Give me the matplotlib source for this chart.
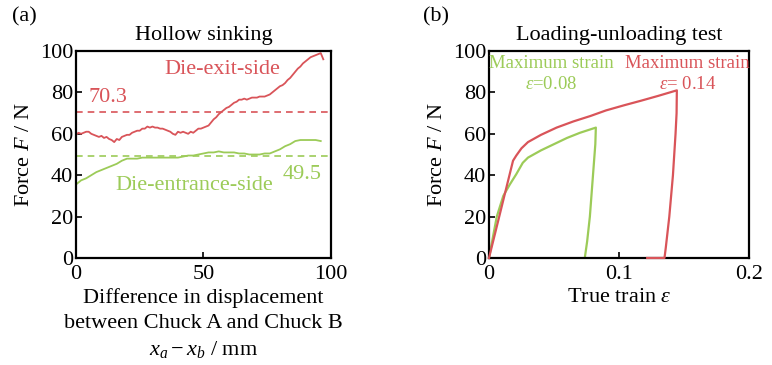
import numpy as np
import matplotlib.pyplot as plt

plt.rcParams['font.family'] = ['Liberation Serif', 'DejaVu Serif']
plt.rcParams['mathtext.fontset'] = 'custom'
plt.rcParams['mathtext.rm'] = 'Liberation Serif'
plt.rcParams['mathtext.it'] = 'Liberation Serif:italic'

RED = '#d95459'
GREEN = '#9ccb58'

# (a) hollow sinking: force vs displacement difference (read every 1 mm / 2 mm)
disp_exit = np.arange(0, 98)
force_exit = [59.5, 60.5, 60, 60.5, 61, 61, 60, 59.5, 59, 58.5,
              59, 58, 58.5, 57.5, 57, 56, 57.5, 57, 58.5, 59,
              59.5, 59.5, 60.5, 61, 61.5, 61.5, 62.5, 62.5, 63.5, 63,
              63.5, 63, 63, 62.5, 62.5, 62, 61.5, 61, 60, 59.5,
              61, 60.5, 61, 60.5, 60, 61, 60.5, 61.5, 62.5, 62.5,
              63, 63.5, 64, 65.5, 67, 68, 69.5, 70.5, 71.5, 72.5,
              73, 74, 75, 75.5, 76.5, 76.5, 77, 76.5, 77, 77.5,
              77.5, 77.5, 78, 78, 78, 78.5, 79, 80, 81, 82,
              83, 83.5, 84.5, 86, 87, 88.5, 90, 91.5, 92.5, 94,
              95, 96, 97, 97.5, 98, 98.5, 99, 96]
disp_entr = np.arange(0, 98, 2)
force_entr = [35.5, 37.5, 38.5, 40, 41.5, 42.5, 43.5, 44.5, 45.5, 47,
              48, 48, 48, 48.5, 48.5, 48.5, 48.5, 48.5, 48.5, 48.5,
              48.5, 49, 49.5, 49.5, 50, 50.5, 51, 51, 51.5, 51,
              51, 51, 50.5, 50.5, 50, 50, 50, 50.5, 50.5, 51.5,
              52.5, 54, 55, 56.5, 57, 57, 57, 57, 56.5]
mean_exit = 70.3
mean_entr = 49.5

# (b) loading-unloading test: force vs true strain
strain_008 = [0, 0.006, 0.011, 0.016, 0.021, 0.026, 0.03, 0.04, 0.05, 0.06, 0.07,
              0.0822, 0.0818, 0.080, 0.0776, 0.0755, 0.0737]
force_008 = [0, 20, 30, 35.5, 40.5, 46, 48.5, 52, 55, 58, 60.5,
             63, 55, 40, 20, 8, 0]
strain_014 = [0, 0.0185, 0.021, 0.025, 0.03, 0.04, 0.052, 0.065, 0.078, 0.09,
              0.104, 0.117, 0.13, 0.1445, 0.1443, 0.1435, 0.1415, 0.1387,
              0.136, 0.135, 0.1217]
force_014 = [0, 47, 49.5, 53, 56, 59.5, 63, 66, 68.6, 71.3,
             73.8, 76, 78.3, 81, 70, 60, 40, 20,
             5, 0, 0]

fig = plt.figure(figsize=(7.72, 3.65), dpi=100)
ax1 = fig.add_axes([0.0984, 0.2932, 0.3303, 0.567])
ax2 = fig.add_axes([0.6334, 0.2932, 0.3368, 0.567])

fs = 16
for ax in (ax1, ax2):
    for s in ax.spines.values():
        s.set_linewidth(1.6)
    ax.tick_params(direction='in', length=4, width=1.2, labelsize=fs, pad=2,
                   top=False, right=False)
    ax.tick_params(axis='x', pad=5)
    ax.set_ylim(0, 100)
    ax.set_yticks([0, 20, 40, 60, 80, 100])
    ax.set_ylabel('Force $F$ / N', fontsize=fs, labelpad=4)

ax1.plot(disp_exit, force_exit, color=RED, lw=1.3)
ax1.plot(disp_entr, force_entr, color=GREEN, lw=1.3)
ax1.axhline(mean_exit, color=RED, lw=1.2, ls=(0, (4, 3)))
ax1.axhline(mean_entr, color=GREEN, lw=1.2, ls=(0, (4, 3)))
ax1.set_xlim(0, 100)
ax1.set_xticks([0, 50, 100])
ax1.text(57.5, 91, 'Die-exit-side', color=RED, fontsize=fs, ha='center', va='center')
ax1.text(5, 77.5, f'{mean_exit}', color=RED, fontsize=fs, ha='left', va='center')
ax1.text(96.5, 40.5, f'{mean_entr}', color=GREEN, fontsize=fs, ha='right', va='center')
ax1.text(46.5, 35, 'Die-entrance-side', color=GREEN, fontsize=fs, ha='center', va='center')
ax1.set_title('Hollow sinking', fontsize=fs, pad=8)
ax1.set_xlabel('Difference in displacement\nbetween Chuck A and Chuck B\n$x_a - x_b$ / mm',
               fontsize=fs, labelpad=3, linespacing=1.4)

ax2.plot(strain_008, force_008, color=GREEN, lw=1.6)
ax2.plot(strain_014, force_014, color=RED, lw=1.6, clip_on=False, zorder=5)
ax2.set_xlim(0, 0.2)
ax2.set_xticks([0, 0.1, 0.2])
ax2.set_xticklabels(['0', '0.1', '0.2'])
afs = 13.5
ax2.text(0.048, 94, 'Maximum strain', color=GREEN, fontsize=afs, ha='center', va='center')
ax2.text(0.048, 84, r'$\varepsilon$=0.08', color=GREEN, fontsize=afs, ha='center', va='center')
ax2.text(0.1525, 94, 'Maximum strain', color=RED, fontsize=afs, ha='center', va='center')
ax2.text(0.1525, 84, r'$\varepsilon$= 0.14', color=RED, fontsize=afs, ha='center', va='center')
ax2.set_title('Loading-unloading test', fontsize=fs, pad=8)
ax2.set_xlabel(r'True train $\varepsilon$', fontsize=fs, labelpad=3)

fig.text(0.016, 0.955, '(a)', fontsize=fs, va='center')
fig.text(0.548, 0.955, '(b)', fontsize=fs, va='center')

fig.savefig('out.png', dpi=100)
